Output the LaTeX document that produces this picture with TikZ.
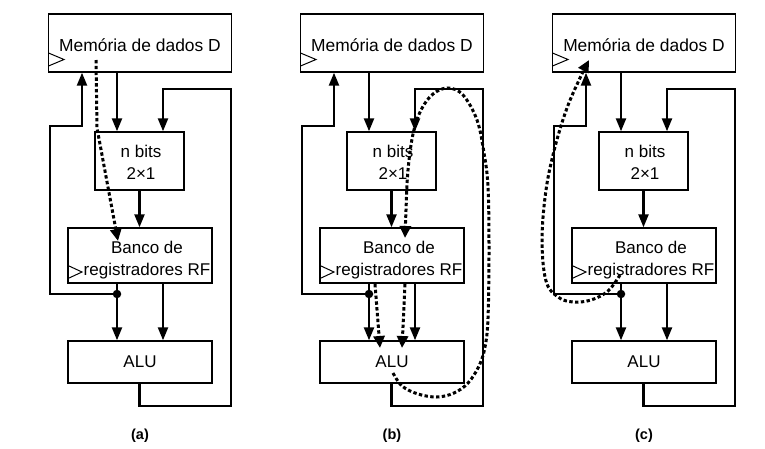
\documentclass[tikz,border=0pt]{standalone}
\usepackage{fontspec}
\setmainfont{Liberation Sans}
\usetikzlibrary{arrows.meta}
\tikzset{
  box/.style={draw, line width=1.4pt, inner sep=0pt, fill=none},
  lbl/.style={inner sep=0pt, align=center, font=\fontsize{17}{22}\selectfont},
  memlbl/.style={inner sep=0pt, font=\fontsize{17.4}{20}\selectfont},
  caplbl/.style={inner sep=0pt, font=\fontsize{14.5}{16}\selectfont\bfseries},
  wire/.style={line width=2.3pt},
  arr/.style={-{Triangle[length=13pt,width=10pt]}},
  clk/.style={line width=1pt},
  dot/.style={circle, fill=black, inner sep=0pt, minimum size=8.5pt},
  flow/.style={line width=3pt, dash pattern=on 3.4pt off 2.4pt},
  farr/.style={-{Triangle[length=12pt,width=11pt]}}
}
\newcommand\drawpanel[3]{%
\begin{scope}[xshift=#2]
  \node[box, minimum width=183pt, minimum height=58pt] (mem#1) at (140,43) {};
  \node[memlbl] (memt#1) at (140,45) {Memória de dados D};
  \node[box, minimum width=89pt, minimum height=58pt] (mux#1) at (139.5,161) {};
  \node[lbl] (muxt#1) at (141,162) {n bits\\2×1};
  \node[box, minimum width=144pt, minimum height=55pt] (rf#1) at (140,255.5) {};
  \node[lbl] (rft#1) at (147,260) {Banco de\\registradores RF};
  \node[box, minimum width=144pt, minimum height=42pt] (alu#1) at (140,362) {};
  \node[lbl] (alut#1) at (140,362) {ALU};
  \node[caplbl] (cap#1) at (140,436) {#3};
  % clock triangles
  \draw[clk] (48.5,53) -- (64,59.5) -- (48.5,66);
  \draw[clk] (68,265.5) -- (82,272) -- (68,278.5);
  % reference coordinates
  \coordinate (j#1) at (117,294);
  \coordinate (r#1) at (163,0);
  \coordinate (la#1) at (82,0);
  \coordinate (ll#1) at (50,126);
  \coordinate (br#1) at (231,406);
  \coordinate (tr#1) at (163,89);
  % wires
  \draw[wire,arr] (mem#1.south -| j#1) -- (mux#1.north -| j#1);
  \draw[wire,arr] (mux#1.south) -- (rf#1.north -| mux#1.south);
  \draw[wire,arr] (rf#1.south -| j#1) -- (alu#1.north -| j#1);
  \draw[wire,arr] (rf#1.south -| r#1) -- (alu#1.north -| r#1);
  \draw[wire,arr] (alu#1.south -| mux#1.south) |- (br#1) |- (tr#1) -- (mux#1.north -| r#1);
  \draw[wire,arr] (j#1) -| (ll#1) -| (mem#1.south -| la#1);
  \node[dot] (dot#1) at (j#1) {};
\end{scope}}
\begin{document}
\begin{tikzpicture}[x=1pt,y=-1pt]
  \useasboundingbox[fill=white] (0,0) rectangle (765,448);
  \drawpanel{A}{0pt}{(a)}
  \drawpanel{B}{252pt}{(b)}
  \drawpanel{C}{504pt}{(c)}
  % flow (a)
  \begin{scope}
    \coordinate (fa0) at (96,60);
    \coordinate (fa1) at (97,128);
    \coordinate (fa2) at (118,241);
    \draw[flow,farr] (fa0) -- (fa1) -- (fa2);
  \end{scope}
  % flow (b)
  \begin{scope}[xshift=252pt]
    \coordinate (fb0) at (141,373);
    \coordinate (fb1) at (153,238);
    \draw[flow,farr] plot[smooth, tension=0.6] coordinates {(141,373) (150,386) (166,394) (185,397) (202,393) (216,383) (227,366) (233,347) (236,318) (237,250) (236,187) (232,153) (225,120) (211,95) (196,88) (181,94) (169,110) (161,134) (156,170) (154,210) (153,238)};
    \coordinate (fb2) at (123,284);
    \coordinate (fb3) at (128,348);
    \coordinate (fb4) at (153,284);
    \coordinate (fb5) at (150,348);
    \draw[flow,farr] (fb2) -- (fb3);
    \draw[flow,farr] (fb4) -- (fb5);
  \end{scope}
  % flow (c)
  \begin{scope}[xshift=504pt]
    \coordinate (fc0) at (116,275);
    \coordinate (fc1) at (85,60);
    \draw[flow,farr] plot[smooth, tension=0.6] coordinates {(116,275) (104,291) (87,300) (69,302) (54,297) (42,281) (38,240) (42,190) (51,147) (63,108) (76,78) (85,60)};
  \end{scope}
\end{tikzpicture}
\end{document}
